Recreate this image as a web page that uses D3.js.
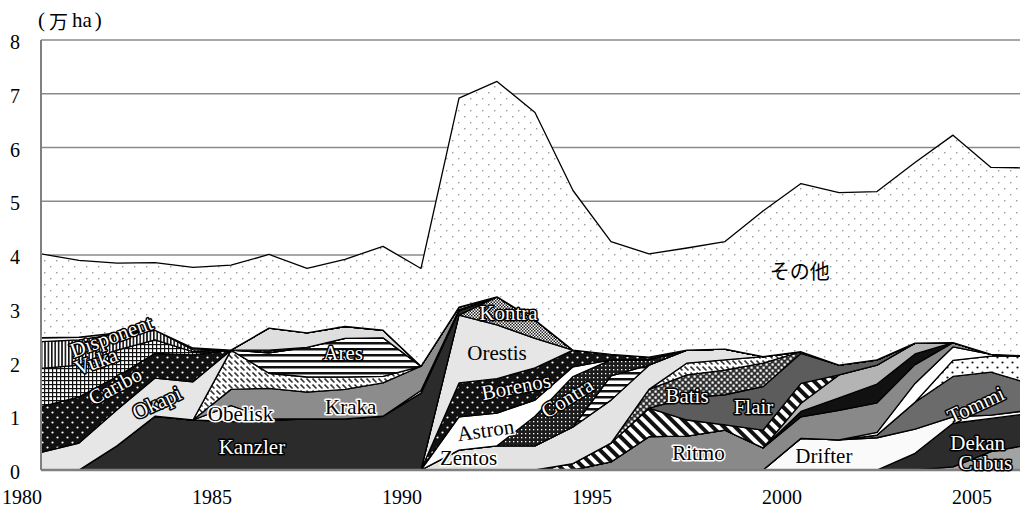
<!DOCTYPE html>
<html lang="ja">
<head>
<meta charset="UTF-8">
<title>品種別作付面積</title>
<style>
  body { margin: 0; background: #fff; }
</style>
</head>
<body>
<svg width="1020" height="510"></svg>
<script src="https://d3js.org/d3.v7.min.js"></script>
<script>
// 1980 .. 2006
const years = d3.range(1980, 2007);
const yTicks = [0, 1, 2, 3, 4, 5, 6, 7, 8];
const xTicks = [1980, 1985, 1990, 1995, 2000, 2005];

// 万 ha, stacked bottom -> top
const cubus     = [0,0,0,0,0, 0,0,0,0,0, 0,0,0,0,0, 0,0,0,0,0, 0,0,0,0,0.06, 0.34,0.47];
const dekan     = [0,0,0,0,0, 0,0,0,0,0, 0,0,0,0,0, 0,0,0,0,0, 0,0,0,0.31,0.81, 0.62,0.58];
const drifter   = [0,0,0,0,0, 0,0,0,0,0, 0,0,0,0,0, 0,0,0,0,0, 0.59,0.56,0.60,0.45,0.12, 0.06,0.06];
const tommi     = [0,0,0,0,0, 0,0,0,0,0, 0,0,0,0,0, 0,0,0,0,0, 0,0,0.05,0.50,0.75, 0.80,0.50];
const v13       = [0,0,0,0,0, 0,0,0,0,0, 0,0,0,0,0, 0,0,0,0,0, 0,0,0,0,0.30, 0.30,0.51];
const v14       = [0,0,0,0,0, 0,0,0,0,0, 0,0,0,0,0, 0,0,0,0,0, 0,0,0.05,0.35,0.25, 0.03,0];
const ritmo     = [0,0,0,0,0, 0,0,0,0,0, 0,0,0,0,0, 0.15,0.62,0.63,0.74,0.41, 0.40,0.55,0.55,0.35,0.08, 0,0];
const v15       = [0,0,0,0,0, 0,0,0,0,0, 0,0,0,0,0, 0,0,0,0,0, 0.10,0.23,0.35,0.20,0, 0,0];
const v16       = [0,0,0,0,0, 0,0,0,0,0, 0,0,0,0,0, 0,0,0,0,0, 0.15,0.43,0.35,0.20,0, 0,0];
const stripe    = [0,0,0,0,0, 0,0,0,0,0, 0,0,0,0,0.12, 0.35,0.53,0.30,0.10,0.33, 0.37,0,0,0,0, 0,0];
const flair     = [0,0,0,0,0, 0,0,0,0,0, 0,0,0,0,0, 0,0,0.41,0.56,0.81, 0.56,0.18,0.10,0,0, 0,0];
const batis     = [0,0,0,0,0, 0,0,0,0,0, 0,0,0,0,0, 0,0.35,0.43,0.46,0.44, 0.03,0,0,0,0, 0,0];
const v11       = [0,0,0,0,0, 0,0,0,0,0, 0,0,0,0,0, 0,0,0.22,0.19,0.12, 0,0,0,0,0, 0,0];
const zentos    = [0,0,0,0,0, 0,0,0,0,0, 0,0.37,0.45,0.45,0.68, 0.80,0.45,0.24,0.20,0, 0,0,0,0,0, 0,0];
const v6        = [0,0,0,0,0, 0,0,0,0,0, 0,0,0,0,0, 0.45,0,0,0,0, 0,0,0,0,0, 0,0];
const contra    = [0,0,0,0,0, 0,0,0,0,0, 0,0,0,0.55,0.94, 0.30,0.10,0,0,0, 0,0,0,0,0, 0,0];
const astron    = [0,0,0,0,0, 0,0,0,0,0, 0,0.62,0.61,0.30,0.18, 0,0,0,0,0, 0,0,0,0,0, 0,0];
const borenos   = [0,0,0,0,0, 0,0,0,0,0, 0,0.63,0.64,0.60,0.31, 0.10,0.05,0,0,0, 0,0,0,0,0, 0,0];
const orestis   = [0,0,0,0,0, 0,0,0,0,0, 0,1.26,1.00,0.55,0, 0,0,0,0,0, 0,0,0,0,0, 0,0];
const kontra    = [0,0,0,0,0, 0,0,0,0,0, 0,0,0.52,0.34,0, 0,0,0,0,0, 0,0,0,0,0, 0,0];
const kanzler   = [0,0,0.45,1.00,0.93, 0.90,0.92,0.95,0.95,1.00, 1.43,0.08,0,0,0, 0,0,0,0,0, 0,0,0,0,0, 0,0];
const obelisk   = [0,0,0,0,0, 0.30,0.03,0,0,0, 0,0,0,0,0, 0,0,0,0,0, 0,0,0,0,0, 0,0];
const v7        = [0,0,0,0,0, 0,0,0,0,0, 0.05,0.02,0,0,0, 0,0,0,0,0, 0,0,0,0,0, 0,0];
const kraka     = [0,0,0,0,0, 0.30,0.57,0.50,0.55,0.62, 0.45,0.05,0,0,0, 0,0,0,0,0, 0,0,0,0,0, 0,0];
const v8        = [0,0,0,0,0, 0.73,0.28,0.28,0.23,0.12, 0,0,0,0,0, 0,0,0,0,0, 0,0,0,0,0, 0,0];
const ares      = [0,0,0,0,0, 0,0.38,0.55,0.72,0.72, 0,0,0,0,0, 0,0,0,0,0, 0,0,0,0,0, 0,0];
const okapi     = [0.33,0.50,0.67,0.71,0.71, 0,0,0,0,0, 0,0,0,0,0, 0,0,0,0,0, 0,0,0,0,0, 0,0];
const caribo    = [0.85,0.86,0.62,0.46,0.50, 0,0.05,0,0,0, 0,0,0,0,0, 0,0,0,0,0, 0,0,0,0,0, 0,0];
const v9        = [0,0,0,0,0, 0,0.41,0.27,0.22,0.14, 0,0,0,0,0, 0,0,0,0,0, 0,0,0,0,0, 0,0];
const vuka      = [0.71,0.59,0.49,0.25,0.06, 0,0,0,0,0, 0,0,0,0,0, 0,0,0,0,0, 0,0,0,0,0, 0,0];
const disponent = [0.50,0.47,0.30,0.18,0.04, 0,0,0,0,0, 0,0,0,0,0, 0,0,0,0,0, 0,0,0,0,0, 0,0];
const v10       = [0.07,0.05,0.02,0,0.03, 0,0,0,0,0, 0,0,0,0,0, 0,0,0,0,0, 0,0,0,0,0, 0,0];
const others    = [1.56,1.43,1.30,1.26,1.50, 1.58,1.37,1.20,1.25,1.56, 1.82,3.89,4.01,3.86,2.97,
                   2.10,1.92,1.90,2.00,2.71, 3.13,3.21,3.13,3.36,3.86, 3.48,3.50];

const series = [
    ["Cubus", cubus], ["Dekan", dekan], ["Drifter", drifter], ["Tommi", tommi],
    ["v13", v13], ["v14", v14], ["Ritmo", ritmo], ["v15", v15], ["v16", v16],
    ["stripe", stripe], ["Flair", flair], ["Batis", batis], ["v11", v11],
    ["Zentos", zentos], ["v6", v6], ["Contra", contra], ["Astron", astron],
    ["Borenos", borenos], ["Orestis", orestis], ["Kontra", kontra],
    ["Kanzler", kanzler], ["Obelisk", obelisk], ["v7", v7], ["Kraka", kraka],
    ["v8", v8], ["Ares", ares], ["Okapi", okapi], ["Caribo", caribo], ["v9", v9],
    ["Vuka", vuka], ["Disponent", disponent], ["v10", v10], ["その他", others]
];

// fills per layer
const fills = {
    "Cubus": "#a3a3a3", "Dekan": "#2c2c2c", "Drifter": "#fafafa", "Tommi": "#6b6b6b",
    "v13": "url(#pWhiteDots)", "v14": "#ffffff", "Ritmo": "#898989", "v15": "#111111",
    "v16": "#b4b4b4", "stripe": "url(#pDiag)", "Flair": "#5c5c5c", "Batis": "url(#pBatis)",
    "v11": "url(#pHatch)", "Zentos": "#e3e3e3", "v6": "url(#pHStripe)", "Contra": "url(#pContra)",
    "Astron": "#ffffff", "Borenos": "url(#pBlackDots)", "Orestis": "#e6e6e6",
    "Kontra": "url(#pChecker)", "Kanzler": "#2b2b2b", "Obelisk": "#f2f2f2", "v7": "#ffffff",
    "Kraka": "#8c8c8c", "v8": "url(#pHatch)", "Ares": "url(#pHStripe)", "Okapi": "#e6e6e6",
    "Caribo": "url(#pBlackDots)", "v9": "#dedede", "Vuka": "url(#pGrid)",
    "Disponent": "url(#pVStripe)", "v10": "#ffffff", "その他": "url(#pOther)"
};

// labels placed in data units: [text, year, value, angle, style]
const labels = [
    ["Disponent", 1981.85, 2.48, -20, "w"],
    ["Vuka", 1981.45, 2.02, -20, "w"],
    ["Caribo", 1981.95, 1.56, -28, "w"],
    ["Okapi", 1983.05, 1.25, -25, "w"],
    ["Kanzler", 1985.55, 0.43, 0, "w"],
    ["Obelisk", 1985.25, 1.04, 0, "b"],
    ["Kraka", 1988.15, 1.17, 0, "b"],
    ["Ares", 1987.95, 2.18, 0, "w"],
    ["Kontra", 1992.3, 2.92, 0, "w"],
    ["Orestis", 1992.0, 2.18, 0, "p"],
    ["Borenos", 1992.5, 1.55, -11, "w"],
    ["Astron", 1991.7, 0.74, -8, "b"],
    ["Contra", 1993.85, 1.34, -32, "w"],
    ["Zentos", 1991.25, 0.22, 0, "b"],
    ["Batis", 1997.0, 1.38, 0, "w"],
    ["Flair", 1998.75, 1.17, 0, "w"],
    ["Ritmo", 1997.3, 0.32, 0, "b"],
    ["Drifter", 2000.6, 0.26, 0, "b"],
    ["Tommi", 2004.6, 1.21, -25, "w"],
    ["Dekan", 2004.65, 0.5, 0, "w"],
    ["Cubus", 2004.85, 0.13, 0, "w"],
    ["その他", 1999.97, 3.72, 0, "p"]
];

const serif = "'Liberation Serif', 'Times New Roman', Tinos, 'DejaVu Serif', serif";
const cjk = "'Noto Sans CJK JP', 'Noto Sans CJK SC', sans-serif";

const svg = d3.select("svg");
const width = 1020, height = 510;
const x = d3.scaleLinear().domain([1980, 2006]).range([41, 1029]);
const y = d3.scaleLinear().domain([0, 8]).range([470, 40]);

const defs = svg.append("defs");
function pattern(id, w, h, bg, draw, transform) {
    const p = defs.append("pattern")
        .attr("id", id)
        .attr("patternUnits", "userSpaceOnUse")
        .attr("width", w)
        .attr("height", h);
    if (transform) p.attr("patternTransform", transform);
    p.append("rect").attr("width", w).attr("height", h).attr("fill", bg);
    draw(p);
}

pattern("pOther", 12, 12, "#fff", p => {
    p.append("rect").attr("x", 2).attr("y", 2).attr("width", 1.4).attr("height", 1.4).attr("fill", "#9a9a9a");
    p.append("rect").attr("x", 8).attr("y", 8).attr("width", 1.4).attr("height", 1.4).attr("fill", "#9a9a9a");
});
pattern("pBlackDots", 10, 10, "#111", p => {
    p.append("circle").attr("cx", 2.5).attr("cy", 2.5).attr("r", 1.1).attr("fill", "#fff");
    p.append("circle").attr("cx", 7.5).attr("cy", 7.5).attr("r", 1.1).attr("fill", "#fff");
});
pattern("pWhiteDots", 10, 10, "#fff", p => {
    p.append("circle").attr("cx", 2.5).attr("cy", 2.5).attr("r", 1.1).attr("fill", "#111");
    p.append("circle").attr("cx", 7.5).attr("cy", 7.5).attr("r", 1.1).attr("fill", "#111");
});
pattern("pGrid", 4, 4, "#fff", p => {
    p.append("rect").attr("width", 4).attr("height", 1.2).attr("fill", "#111");
    p.append("rect").attr("width", 1.2).attr("height", 4).attr("fill", "#111");
});
pattern("pVStripe", 3.4, 4, "#fff", p => {
    p.append("rect").attr("width", 1.6).attr("height", 4).attr("fill", "#111");
});
pattern("pHStripe", 8, 6, "#fff", p => {
    p.append("rect").attr("width", 8).attr("height", 2.5).attr("fill", "#111");
});
pattern("pDiag", 8, 8, "#fff", p => {
    p.append("rect").attr("width", 4).attr("height", 8).attr("fill", "#111");
}, "rotate(-45)");
pattern("pHatch", 6, 6, "#fff", p => {
    p.append("line").attr("x1", 0.5).attr("y1", 0.5).attr("x2", 4.5).attr("y2", 4.5)
        .attr("stroke", "#333").attr("stroke-width", 1.6);
});
pattern("pChecker", 3, 3, "#fff", p => {
    p.append("rect").attr("width", 1.5).attr("height", 1.5).attr("fill", "#222");
    p.append("rect").attr("x", 1.5).attr("y", 1.5).attr("width", 1.5).attr("height", 1.5).attr("fill", "#222");
});
pattern("pContra", 4, 4, "#1c1c1c", p => {
    p.append("rect").attr("x", 1).attr("y", 1).attr("width", 1.3).attr("height", 1.3).attr("fill", "#fff");
});
pattern("pBatis", 6, 6, "#333", p => {
    p.append("rect").attr("x", 0.5).attr("y", 0.5).attr("width", 2.2).attr("height", 2.2).attr("fill", "#fff");
    p.append("rect").attr("x", 3.5).attr("y", 3.5).attr("width", 2.2).attr("height", 2.2).attr("fill", "#fff");
});

// gridlines
svg.append("g")
    .selectAll("line")
    .data(yTicks.filter(d => d > 0))
    .enter()
    .append("line")
    .attr("x1", x(1980)).attr("x2", width)
    .attr("y1", d => y(d)).attr("y2", d => y(d))
    .attr("stroke", "#8a8a8a").attr("stroke-width", 1.5);

// stacked areas
const rows = years.map((yr, i) => {
    const r = { year: yr };
    series.forEach(([k, v]) => { r[k] = v[i]; });
    return r;
});
const stacked = d3.stack().keys(series.map(d => d[0]))(rows);
const area = d3.area()
    .x(d => x(d.data.year))
    .y0(d => y(d[0]))
    .y1(d => y(d[1]));

svg.append("clipPath").attr("id", "plotClip")
    .append("rect").attr("x", x(1980)).attr("y", 0).attr("width", width - x(1980)).attr("height", y(0));

svg.append("g")
    .attr("clip-path", "url(#plotClip)")
    .selectAll("path")
    .data(stacked)
    .enter()
    .append("path")
    .attr("d", area)
    .attr("fill", d => fills[d.key])
    .attr("stroke", "#000")
    .attr("stroke-width", 1.3)
    .attr("stroke-linejoin", "round");

// axes
svg.append("line")
    .attr("x1", x(1980)).attr("x2", x(1980))
    .attr("y1", y(8)).attr("y2", y(0))
    .attr("stroke", "#808080").attr("stroke-width", 2);
svg.append("line")
    .attr("x1", x(1980)).attr("x2", width)
    .attr("y1", y(0)).attr("y2", y(0))
    .attr("stroke", "#808080").attr("stroke-width", 2.5);

svg.append("g")
    .selectAll("text")
    .data(yTicks)
    .enter()
    .append("text")
    .attr("x", 15)
    .attr("y", d => y(d) + 2)
    .attr("text-anchor", "middle")
    .attr("dominant-baseline", "central")
    .attr("font-family", serif)
    .attr("font-size", 20)
    .text(d => d);

svg.append("g")
    .selectAll("text")
    .data(xTicks)
    .enter()
    .append("text")
    .attr("x", d => x(d) - 19)
    .attr("y", 497)
    .attr("text-anchor", "middle")
    .attr("dominant-baseline", "central")
    .attr("font-family", serif)
    .attr("font-size", 20)
    .text(d => d);

const unit = svg.append("text")
    .attr("x", 38)
    .attr("y", 20)
    .attr("dominant-baseline", "central")
    .attr("font-size", 21);
unit.append("tspan").attr("font-family", serif).text("(");
unit.append("tspan").attr("font-family", cjk).attr("font-size", 19).attr("dx", 4).text("万");
unit.append("tspan").attr("font-family", serif).attr("dx", 4).text("ha");
unit.append("tspan").attr("font-family", serif).attr("dx", 3).text(")");

// variety labels
svg.append("g")
    .selectAll("text")
    .data(labels)
    .enter()
    .append("text")
    .attr("transform", d => `translate(${x(d[1])},${y(d[2])}) rotate(${d[3]})`)
    .attr("text-anchor", "middle")
    .attr("dominant-baseline", "central")
    .attr("font-family", d => d[0] === "その他" ? cjk : serif)
    .attr("font-size", d => d[0] === "その他" ? 20 : 21)
    .attr("paint-order", "stroke")
    .attr("stroke-linejoin", "round")
    .attr("fill", d => d[4] === "w" ? "#fff" : "#000")
    .attr("stroke", d => d[4] === "w" ? "#000" : d[4] === "b" ? "#fff" : "none")
    .attr("stroke-width", d => d[4] === "p" ? 0 : 3)
    .text(d => d[0]);
</script>
</body>
</html>
